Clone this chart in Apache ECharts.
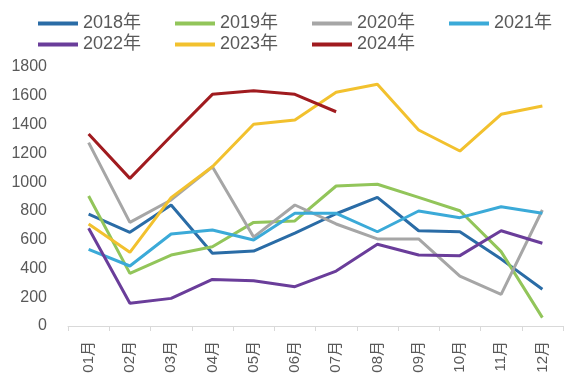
<!DOCTYPE html>
<html>
<head>
<meta charset="utf-8">
<script src="https://cdn.jsdelivr.net/npm/echarts@6/dist/echarts.min.js"></script>
<style>
html,body{margin:0;padding:0;background:#fff;}
#chart{width:587px;height:389px;}
</style>
</head>
<body>
<div id="chart"></div>
<script>
const months = ['01月','02月','03月','04月','05月','06月','07月','08月','09月','10月','11月','12月'];
const seriesNames = ['2018年','2019年','2020年','2021年','2022年','2023年','2024年'];
const s2018 = [778, 651, 841, 505, 521, 645, 780, 894, 662, 655, 465, 255];
const s2019 = [903, 366, 493, 551, 720, 730, 973, 985, 894, 801, 517, 58];
const s2020 = [1274, 720, 876, 1107, 618, 841, 709, 605, 605, 347, 220, 806];
const s2021 = [533, 417, 639, 667, 598, 783, 783, 655, 799, 753, 829, 783];
const s2022 = [679, 158, 192, 324, 315, 273, 382, 568, 493, 489, 662, 575];
const s2023 = [709, 512, 892, 1107, 1402, 1432, 1624, 1680, 1362, 1216, 1471, 1529];
const s2024 = [1334, 1026, 1320, 1610, 1635, 1610, 1489];
const colors = ['#2A6CA6', '#92C55A', '#A6A6A6', '#3BAAD8', '#6A3D9A', '#F2C12E', '#A01B1F'];
const yTicks = {min: 0, max: 1800, interval: 200};

const allData = [s2018, s2019, s2020, s2021, s2022, s2023, s2024];
const FONT = '"Liberation Sans", "Noto Sans CJK SC", sans-serif';
const chart = echarts.init(document.getElementById('chart'));
chart.setOption({
  animation: false,
  backgroundColor: '#fff',
  color: colors,
  textStyle: {fontFamily: FONT},
  legend: {
    left: 38, top: 13, width: 548, padding: 0,
    itemGap: 0, itemWidth: 40, itemHeight: 4, icon: 'rect',
    data: seriesNames,
    textStyle: {fontSize: 18, color: '#595959', fontFamily: FONT, width: 92, lineHeight: 21}
  },
  grid: {left: 68, right: 24, top: 67, bottom: 63},
  xAxis: {
    type: 'category', data: months, boundaryGap: true,
    axisLine: {lineStyle: {color: '#D9D9D9', width: 1}},
    axisTick: {show: true, length: 5, lineStyle: {color: '#D9D9D9'}},
    axisLabel: {rotate: 90, margin: 15, fontSize: 15, color: '#595959', fontFamily: FONT}
  },
  yAxis: {
    type: 'value', min: yTicks.min, max: yTicks.max, interval: yTicks.interval,
    axisLine: {show: false}, axisTick: {show: false}, splitLine: {show: false},
    axisLabel: {fontSize: 16, color: '#595959', margin: 21, fontFamily: FONT,
      formatter: v => String(v)}
  },
  series: seriesNames.map((n, i) => ({
    name: n, type: 'line', data: allData[i], symbol: 'none',
    lineStyle: {width: 3, color: colors[i]}, itemStyle: {color: colors[i]}
  }))
});
</script>
</body>
</html>
